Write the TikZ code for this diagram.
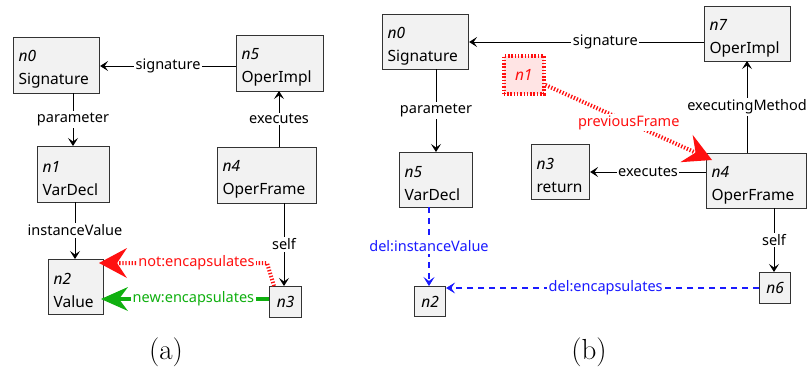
\documentclass[tikz,border=0pt]{standalone}
\usepackage{fontspec}
\setsansfont{Noto Sans}
\usetikzlibrary{arrows.meta}
\definecolor{boxfill}{HTML}{F2F2F2}
\definecolor{boxline}{HTML}{333333}
\definecolor{redc}{HTML}{FF1010}
\definecolor{redfill}{HTML}{FFE4E4}
\definecolor{greenc}{HTML}{10B010}
\definecolor{bluec}{HTML}{1A1AFF}
\newcommand{\nmlabel}[1]{\rule{0pt}{19pt}\textit{#1}}
\begin{document}
\begin{tikzpicture}[x=1pt,y=-1pt,
  every node/.style={font=\sffamily\fontsize{14.5}{22}\selectfont},
  gbox/.style={draw=boxline, fill=boxfill, line width=1.1pt, inner xsep=5pt, inner ysep=2pt, align=left, anchor=north west, font=\sffamily\fontsize{15.5}{23}\selectfont},
  sbox/.style={draw=boxline, fill=boxfill, line width=1.1pt, inner sep=0pt, anchor=north west, font=\sffamily\fontsize{15.5}{23}\selectfont},
  lbl/.style={fill=white, inner sep=1.5pt},
  conn/.style={line width=0.9pt, draw=black, -{Stealth[length=8pt,width=10pt,inset=3.5pt]}},
  redconn/.style={line width=4pt, draw=redc, dash pattern=on 1.3pt off 1.8pt, -{Stealth[length=28pt,width=30pt,inset=10pt,line width=0pt, sep=0pt]}},
  blueconn/.style={line width=1.1pt, draw=bluec, dash pattern=on 6pt off 5pt, -{Stealth[length=9pt,width=11pt,inset=4pt,line width=0.6pt]}},
  captext/.style={font=\fontsize{29}{30}\selectfont\rmfamily}
]
\useasboundingbox (0,0) rectangle (810,372);
% ===== panel (a)
\node[gbox, minimum width=86pt, minimum height=56pt, text width=76pt] (a0) at (13,37) {\nmlabel{n0}\\Signature};
\node[gbox, minimum width=87pt, minimum height=56pt, text width=77pt] (a5) at (236,35) {\nmlabel{n5}\\OperImpl};
\node[gbox, minimum width=72pt, minimum height=56pt, text width=62pt] (a1) at (37,146) {\nmlabel{n1}\\VarDecl};
\node[gbox, minimum width=99pt, minimum height=56pt, text width=89pt] (a4) at (217,147) {\nmlabel{n4}\\OperFrame};
\node[gbox, minimum width=55pt, minimum height=55pt, text width=45pt] (a2) at (48,259) {\nmlabel{n2}\\Value};
\node[sbox, minimum width=32pt, minimum height=31pt] (a3) at (269,286) {\textit{n3}};

\draw[conn] (a5.west |- 0,66) -- node[lbl]{signature} (a0.east |- 0,66);
\draw[conn] (73,93) -- node[lbl, pos=0.5]{parameter} (73,146);
\draw[conn] (279,147) -- node[lbl]{executes} (279,91);
\draw[conn] (75,202) -- node[lbl]{instanceValue} (75,259);
\draw[conn] (284,203) -- node[lbl]{self} (284,286);
\coordinate (ak) at (267,263);
\draw[redconn] (274,286) -- (ak) -- node[lbl, text=redc, pos=0.42]{not:encapsulates} (99,263);
\draw[greenc, line width=3.5pt, -{Stealth[length=27pt,width=24pt,inset=9pt,line width=0pt]}] (a3.west |- 0,299) -- node[lbl, text=greenc, line width=0pt, pos=0.45]{new:encapsulates} (101,299);

% ===== panel (b)
\node[gbox, minimum width=86pt, minimum height=55pt, text width=76pt] (b0) at (382,14) {\nmlabel{n0}\\Signature};
\node[gbox, minimum width=86pt, minimum height=55pt, text width=76pt] (b7) at (704,6) {\nmlabel{n7}\\OperImpl};
\node[draw=redc, fill=redfill, line width=3.5pt, dash pattern=on 1.5pt off 1.8pt, inner sep=0pt, minimum width=40pt, minimum height=38pt, anchor=north west, text=redc, font=\sffamily\fontsize{15.5}{23}\selectfont] (b1) at (502,54) {\textit{n1}};
\node[gbox, minimum width=73pt, minimum height=55pt, text width=63pt] (b5) at (399,152) {\nmlabel{n5}\\VarDecl};
\node[gbox, minimum width=58pt, minimum height=55pt, text width=48pt] (b3) at (531,144) {\nmlabel{n3}\\return};
\node[gbox, minimum width=100pt, minimum height=55pt, text width=90pt] (b4) at (706,153) {\nmlabel{n4}\\OperFrame};
\node[sbox, minimum width=31pt, minimum height=31pt] (b6) at (759,272) {\textit{n6}};
\node[sbox, minimum width=31pt, minimum height=30pt] (b2) at (414,286) {\textit{n2}};

\draw[conn] (b7.west |- 0,42) -- node[lbl, pos=0.42]{signature} (b0.east |- 0,42);
\draw[conn] (436,69) -- node[lbl]{parameter} (436,152);
\draw[conn] (747,153) -- node[lbl]{executingMethod} (747,61);
\draw[conn] (b4.west |- 0,172) -- node[lbl]{executes} (b3.east |- 0,172);
\draw[conn] (774,208) -- node[lbl]{self} (774,272);
\draw[redconn] (b1.east |- 0,85) -- node[lbl, text=redc, pos=0.5, fill=white]{previousFrame} (712,160);
\draw[blueconn] (429,207) -- node[lbl, text=bluec]{del:instanceValue} (429,286);
\draw[blueconn] (b6.west |- 0,288) -- node[lbl, text=bluec, pos=0.49]{del:encapsulates} (b2.east |- 0,288);

% captions
\node[captext] (capa) at (166,352) {(a)};
\node[captext] (capb) at (589,352) {(b)};
\end{tikzpicture}
\end{document}
